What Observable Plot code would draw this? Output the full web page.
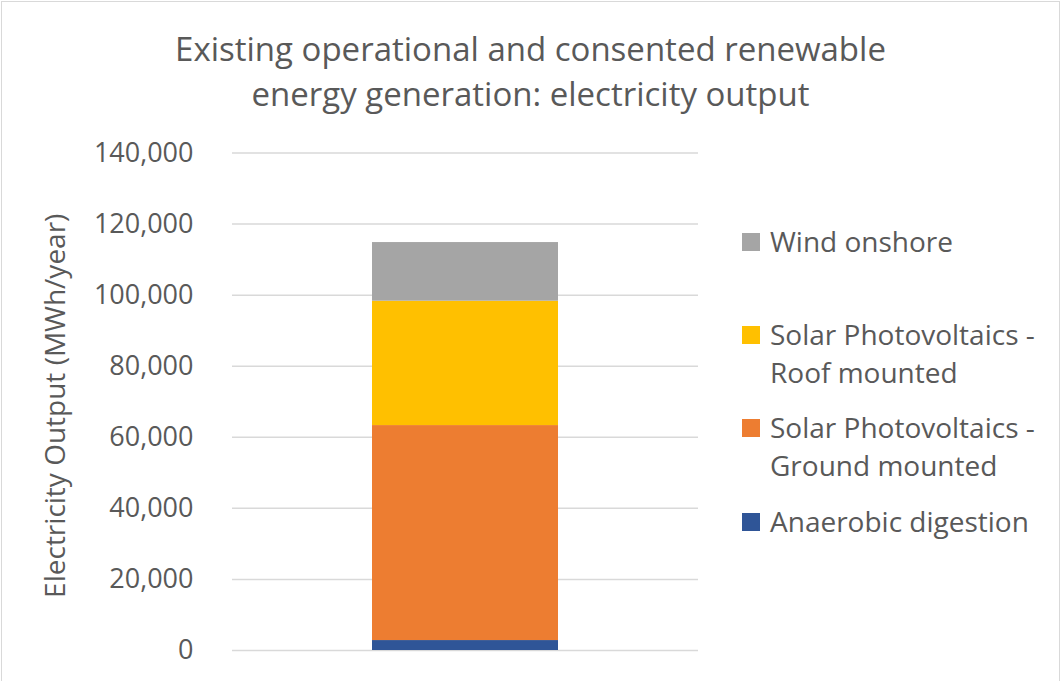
<!DOCTYPE html>
<html>
<head>
<meta charset="utf-8">
<script src="https://cdn.jsdelivr.net/npm/d3@7"></script>
<script src="https://cdn.jsdelivr.net/npm/@observablehq/plot@0.6"></script>
<style>
  html, body { margin: 0; padding: 0; background: #fff; }
  #chart { position: relative; width: 1061px; height: 681px; overflow: hidden; font-family: "Open Sans", sans-serif; color: #595959; }
  #frame { position: absolute; left: 1px; top: 1px; width: 1057px; height: 684px; border: 1.5px solid #d9d9d9; }
  #title { position: absolute; left: 0; top: 26px; width: 1061px; text-align: center; font-size: 33px; line-height: 45px; }
  #plot { position: absolute; left: 0; top: 130px; }
  .item { position: absolute; left: 742px; font-size: 28px; line-height: 38px; }
  .item .sw { position: absolute; left: 0; width: 18px; height: 18px; }
  .item .tx { position: absolute; left: 28px; white-space: nowrap; }
</style>
</head>
<body>
<div id="chart">
  <div id="frame"></div>
  <div id="title"></div>
  <div id="plot"></div>
</div>
<script>
// Electricity output by source (MWh/year), stacked bottom to top
const sources = [
  "Anaerobic digestion",
  "Solar Photovoltaics - Ground mounted",
  "Solar Photovoltaics - Roof mounted",
  "Wind onshore"
];
const legendLines = [
  ["Anaerobic digestion"],
  ["Solar Photovoltaics -", "Ground mounted"],
  ["Solar Photovoltaics -", "Roof mounted"],
  ["Wind onshore"]
];
const outputs = [2800, 60500, 35000, 16500];
const colors = ["#2f5597", "#ed7d31", "#ffc000", "#a5a5a5"];
const yTicks = [0, 20000, 40000, 60000, 80000, 100000, 120000, 140000];
const titleLines = [
  "Existing operational and consented renewable",
  "energy generation: electricity output"
];
const yTitle = "Electricity Output (MWh/year)";
const category = "Total";

const rows = sources.map((s, i) => ({category, source: s, value: outputs[i]}));

document.getElementById("title").innerHTML = titleLines.join("<br>");

const plot = Plot.plot({
  width: 1061,
  height: 551,
  marginTop: 22.5,
  marginBottom: 31,
  marginLeft: 232,
  marginRight: 363,
  style: {fontFamily: "Open Sans, sans-serif", fontSize: "27px", color: "#595959", background: "transparent"},
  x: {domain: [category], padding: 0.428, axis: null},
  y: {domain: [0, 140000]},
  color: {domain: sources, range: colors},
  marks: [
    Plot.gridY(yTicks, {stroke: "#d9d9d9", strokeOpacity: 1, strokeWidth: 1.5}),
    Plot.barY(rows, {x: "category", y: "value", fill: "source"}),
    Plot.axisY({
      ticks: yTicks,
      tickFormat: d3.format(","),
      tickSize: 0,
      tickPadding: 39,
      label: null
    }),
    Plot.text([yTitle], {
      frameAnchor: "left",
      rotate: -90,
      dx: -187,
      dy: 4,
      lineAnchor: "top",
      textAnchor: "middle",
      fontSize: 28,
      fill: "#595959"
    })
  ]
});
document.getElementById("plot").appendChild(plot);

// Legend on the right, top entry first
const tops = [502, 408, 315, 222];
const chart = document.getElementById("chart");
sources.forEach((s, i) => {
  const item = document.createElement("div");
  item.className = "item";
  item.style.top = tops[i] + "px";
  const sw = document.createElement("div");
  sw.className = "sw";
  sw.style.background = colors[i];
  sw.style.top = "11px";
  const tx = document.createElement("div");
  tx.className = "tx";
  tx.innerHTML = legendLines[i].join("<br>");
  item.appendChild(sw);
  item.appendChild(tx);
  chart.appendChild(item);
});
</script>
</body>
</html>
